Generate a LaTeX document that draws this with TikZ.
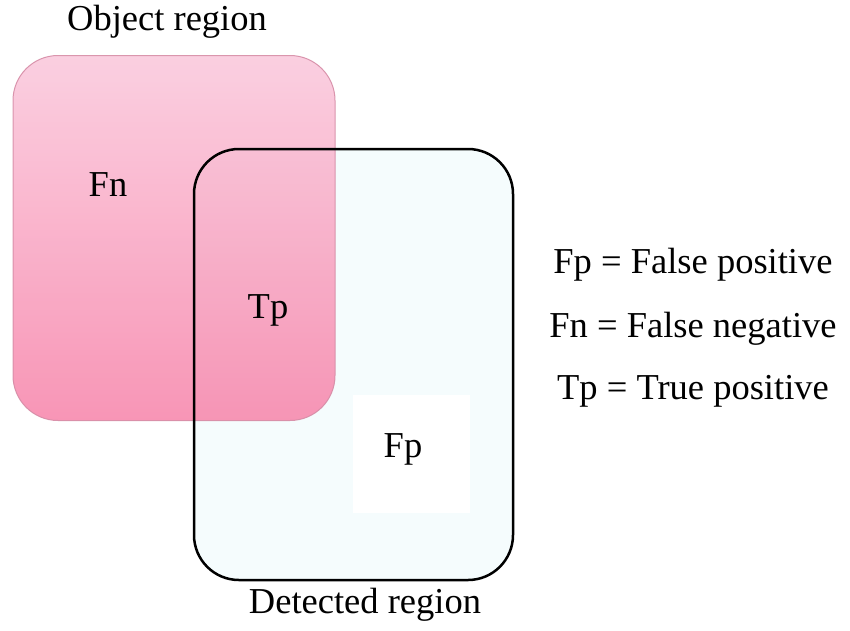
\documentclass[tikz,border=0pt]{standalone}
\usepackage{fontspec}
\setmainfont{Liberation Serif}
\usepackage{tikz}
\usetikzlibrary{positioning}
\usetikzlibrary{calc}

\definecolor{pinktop}{RGB}{250,202,221}
\definecolor{pinkbot}{RGB}{247,138,174}
\definecolor{pinkline}{RGB}{214,140,166}
\definecolor{detfill}{RGB}{245,252,253}

\begin{document}
\begin{tikzpicture}[x=1pt,y=-1pt,
        every node/.style={font=\fontsize{36.5}{42}\selectfont,inner sep=0pt},
        regionbox/.style={rectangle,rounded corners=45pt,outer sep=0pt},
        objbox/.style={regionbox,draw=pinkline,line width=1pt,top color=pinktop,bottom color=pinkbot,opacity=0.9},
        detbox/.style={regionbox,fill=detfill},
        detline/.style={draw=black,line width=2.5pt,rounded corners=45pt}]
   \useasboundingbox (0,0) rectangle (850,630);
   \node (det) [detbox,minimum width=319pt,minimum height=431pt] at (353.5,364.5) {};
   \node (obj) [objbox,minimum width=322pt,minimum height=365pt] at (174,238) {};
   \draw[detline] (det.north west) rectangle (det.south east);
   \node (objlabel) at (167,22) {Object region};
   \node (detlabel) at (365,605) {Detected region};
   \node (fn) at (108,185) {Fn};
   \node (tp) at (268,310) {Tp};
   \node (fpbg) [fill=white,minimum width=117pt,minimum height=118pt] at (411,454) {};
   \node (fp) at (403,449) {Fp};
   \node (keyfp) at (693,265) {Fp = False positive};
   \node (keyfn) [below=30pt of keyfp] {Fn = False negative};
   \node (keytp) [below=30pt of keyfn] {Tp = True positive};
\end{tikzpicture}
\end{document}
